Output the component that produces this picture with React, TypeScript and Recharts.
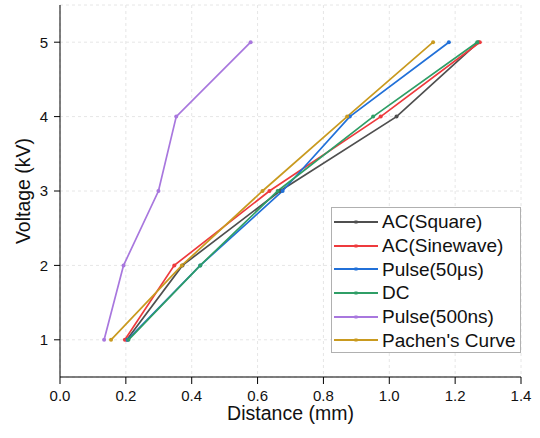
import React from 'react';
import { LineChart, Line, XAxis, YAxis, CartesianGrid, Legend } from 'recharts';

const voltage = [1, 2, 3, 4, 5];
const acSquare = [0.203, 0.372, 0.668, 1.022, 1.271];
const acSine = [0.197, 0.347, 0.636, 0.974, 1.275];
const pulse50us = [0.205, 0.426, 0.676, 0.88, 1.181];
const dc = [0.208, 0.426, 0.661, 0.951, 1.267];
const pulse500ns = [0.134, 0.193, 0.299, 0.353, 0.579];
const paschen = [0.155, 0.37, 0.615, 0.872, 1.133];

const xTicks = [0, 0.2, 0.4, 0.6, 0.8, 1.0, 1.2, 1.4];
const yTicks = [1, 2, 3, 4, 5];

const seriesNames = ['AC(Square)', 'AC(Sinewave)', 'Pulse(50μs)', 'DC', 'Pulse(500ns)', "Pachen's Curve"];
const seriesValues = [acSquare, acSine, pulse50us, dc, pulse500ns, paschen];
const seriesColors = ['#4f4f4f', '#ee3a3d', '#2170d8', '#2f9e66', '#a877de', '#c99a1f'];

const series = seriesNames.map((name, i) => ({
  name,
  color: seriesColors[i],
  data: voltage.map((v, j) => ({ x: seriesValues[i][j], y: v })),
}));

const FONT = '"Liberation Sans", Arial, Helvetica, sans-serif';

const LegendBox = () => (
  <div
    style={{
      border: '1px solid #b0b0b0',
      background: '#fff',
      boxSizing: 'border-box',
      width: '100%',
      height: '100%',
      padding: '2px 0 0 1px',
      fontFamily: FONT,
    }}
  >
    {series.map((s) => (
      <div key={s.name} style={{ display: 'flex', alignItems: 'center', height: 23.7 }}>
        <svg width={46} height={10} style={{ flex: 'none' }}>
          <line x1={1} y1={5} x2={45} y2={5} stroke={s.color} strokeWidth={2} />
          <rect x={21.5} y={3.5} width={3} height={3} fill={s.color} />
        </svg>
        <span style={{ fontSize: 19, color: '#111', marginLeft: 3, whiteSpace: 'nowrap', lineHeight: 1 }}>
          {s.name}
        </span>
      </div>
    ))}
  </div>
);

const YLabel = (props: any) => {
  const vb = props.viewBox || {};
  const cx = vb.x + 30;
  const cy = vb.y + vb.height / 2;
  return (
    <text
      x={cx}
      y={cy}
      transform={`rotate(-90, ${cx}, ${cy})`}
      textAnchor="middle"
      fontSize={19.5}
      fontFamily={FONT}
      fill="#111"
    >
      Voltage (kV)
    </text>
  );
};

const XLabel = (props: any) => {
  const vb = props.viewBox || {};
  return (
    <text
      x={vb.x + vb.width / 2}
      y={vb.y + 43}
      textAnchor="middle"
      fontSize={19.5}
      fontFamily={FONT}
      fill="#111"
    >
      Distance (mm)
    </text>
  );
};

export default function App() {
  return (
    <div style={{ position: 'absolute', left: 0, top: 0, width: 540, height: 438, background: '#fff' }}>
      <LineChart width={540} height={438} margin={{ top: 5, right: 19, left: 0, bottom: 0 }}>
        <CartesianGrid stroke="#e6e6e6" strokeDasharray="3 3" />
        <XAxis
          type="number"
          dataKey="x"
          domain={[0, 1.4]}
          ticks={xTicks}
          tickFormatter={(v: number) => v.toFixed(1)}
          height={61}
          tickSize={7}
          tickMargin={6}
          stroke="#000"
          tick={{ fill: '#111', fontSize: 15, fontFamily: FONT }}
          label={<XLabel />}
          allowDuplicatedCategory={false}
        />
        <YAxis
          type="number"
          dataKey="y"
          domain={[0.5, 5.5]}
          ticks={yTicks}
          width={60}
          tickSize={6}
          tickMargin={6}
          stroke="#000"
          tick={{ fill: '#111', fontSize: 15, fontFamily: FONT }}
          label={<YLabel />}
        />
        {series.map((s) => (
          <Line
            key={s.name}
            data={s.data}
            dataKey="y"
            name={s.name}
            type="linear"
            stroke={s.color}
            strokeWidth={1.7}
            dot={{ r: 2, fill: s.color, stroke: s.color, strokeWidth: 0 }}
            activeDot={false}
            isAnimationActive={false}
          />
        ))}
        <Legend
          layout="vertical"
          align="center"
          verticalAlign="middle"
          content={<LegendBox />}
          wrapperStyle={{ left: 331, top: 207, width: 190, height: 146 }}
        />
      </LineChart>
    </div>
  );
}
